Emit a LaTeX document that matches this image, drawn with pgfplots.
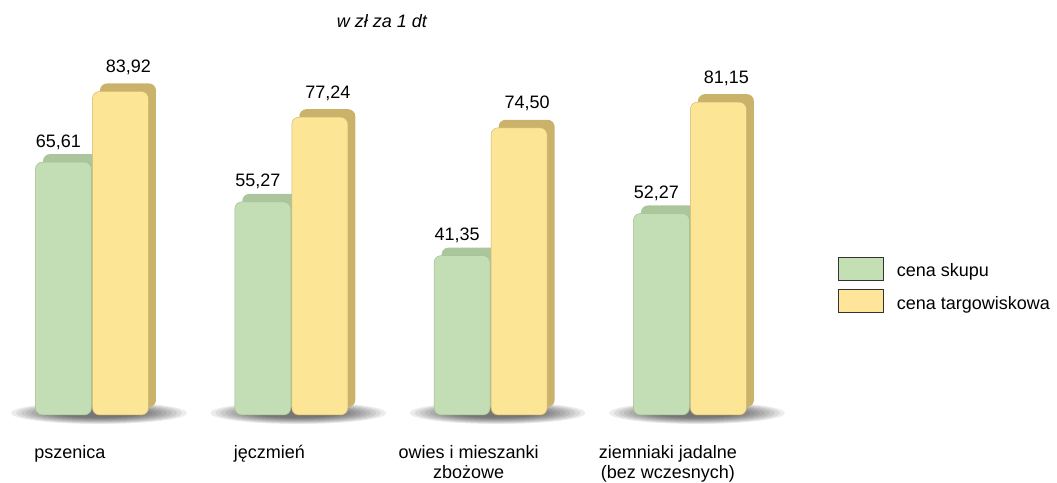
\documentclass[border=0pt]{standalone}
\usepackage{pgfplots}
\pgfplotsset{compat=1.18}
\usepackage{fontspec}
\setmainfont{Liberation Sans}
\definecolor{gfront}{HTML}{C3DEB4}
\definecolor{gedge}{HTML}{A2BE93}
\definecolor{gside}{HTML}{ABC69D}
\definecolor{yfront}{HTML}{FDE596}
\definecolor{yedge}{HTML}{D2B86E}
\definecolor{yside}{HTML}{CBB26B}
\definecolor{gleg}{HTML}{C4DFB4}
\definecolor{yleg}{HTML}{FFE599}
\newcommand{\lbl}{\fontsize{18bp}{20bp}\selectfont}
\pgfplotstableread{
x skup targ
0 65.61 83.92
1 55.27 77.24
2 41.35 74.50
3 52.27 81.15
}\prices
\begin{document}
\begin{tikzpicture}[x=1bp,y=1bp]
\useasboundingbox (0,0) rectangle (1057,483);
\foreach \cx in {99,298.3,497.6,696.9}{
  \foreach \k in {0,...,9}{
    \fill[black, opacity=0.075] (\cx,70) ellipse [x radius={88-5*\k}, y radius={11-0.7*\k}];
  }
}
\node[font=\itshape\lbl, anchor=base] at (382,455) {w zł za 1 dt};
\begin{axis}[
  at={(2.3bp,68bp)}, anchor=south west,
  scale only axis, width=777.3bp, height=385.5bp,
  xmin=-0.45, xmax=3.45, ymin=0, ymax=100,
  clip=false,
  axis line style={draw=none},
  major tick length=0pt,
  ytick=\empty,
  xtick={0,1,2,3},
  xticklabels={{\strut pszenica},{\strut jęczmień},{\strut owies i mieszanki\\zbożowe},{\strut ziemniaki jadalne\\(bez wczesnych)}},
  xticklabel style={font=\lbl, align=center, anchor=north, inner sep=0pt, yshift=-29bp, xshift=-22bp},
  ybar, bar width=56bp,
  nodes near coords style={font=\lbl},
  /pgf/number format/.cd, use comma, fixed, fixed zerofill, precision=2, assume math mode=true,
  /pgfplots/.cd,
  legend style={at={(1.0751,0.4099)}, anchor=north west, draw=none, fill=none, inner sep=0pt,
    row sep=8.5bp, column sep=13bp, font=\lbl, nodes={inner sep=0pt, anchor=base west, yshift=-8bp}},
  legend cell align=left,
]
% depth blocks
\addplot[forget plot, fill=gside, draw=none, bar shift=-21bp, yshift=8bp, rounded corners=7bp] table[x=x,y=skup] {\prices};
\addplot[forget plot, fill=yside, draw=none, bar shift=36bp, yshift=8bp, rounded corners=7bp] table[x=x,y=targ] {\prices};
% front bars
\addplot[forget plot, draw=gedge, line width=0.5bp, fill=gfront, bar shift=-28.5bp, rounded corners=7bp] table[x=x,y=skup] {\prices};
\addplot[forget plot, draw=yedge, line width=0.5bp, fill=yfront, bar shift=28.5bp, rounded corners=7bp] table[x=x,y=targ] {\prices};
% value labels
\addplot[forget plot, draw=none, fill=none, bar shift=-28.5bp, nodes near coords,
  every node near coord/.append style={text=black, anchor=base, inner sep=0pt, yshift=15bp, xshift=-5bp}] table[x=x,y=skup] {\prices};
\addplot[forget plot, draw=none, fill=none, bar shift=28.5bp, nodes near coords,
  every node near coord/.append style={text=black, anchor=base, inner sep=0pt, yshift=19bp, xshift=8bp}] table[x=x,y=targ] {\prices};
\addlegendimage{legend image code/.code={\draw[fill=gleg, draw=black!80, line width=0.6bp] (0bp,-11.5bp) rectangle (45bp,11.5bp);}}
\addlegendentry{cena skupu}
\addlegendimage{legend image code/.code={\draw[fill=yleg, draw=black!80, line width=0.6bp] (0bp,-11.5bp) rectangle (45bp,11.5bp);}}
\addlegendentry{cena targowiskowa}
\end{axis}
\end{tikzpicture}
\end{document}
